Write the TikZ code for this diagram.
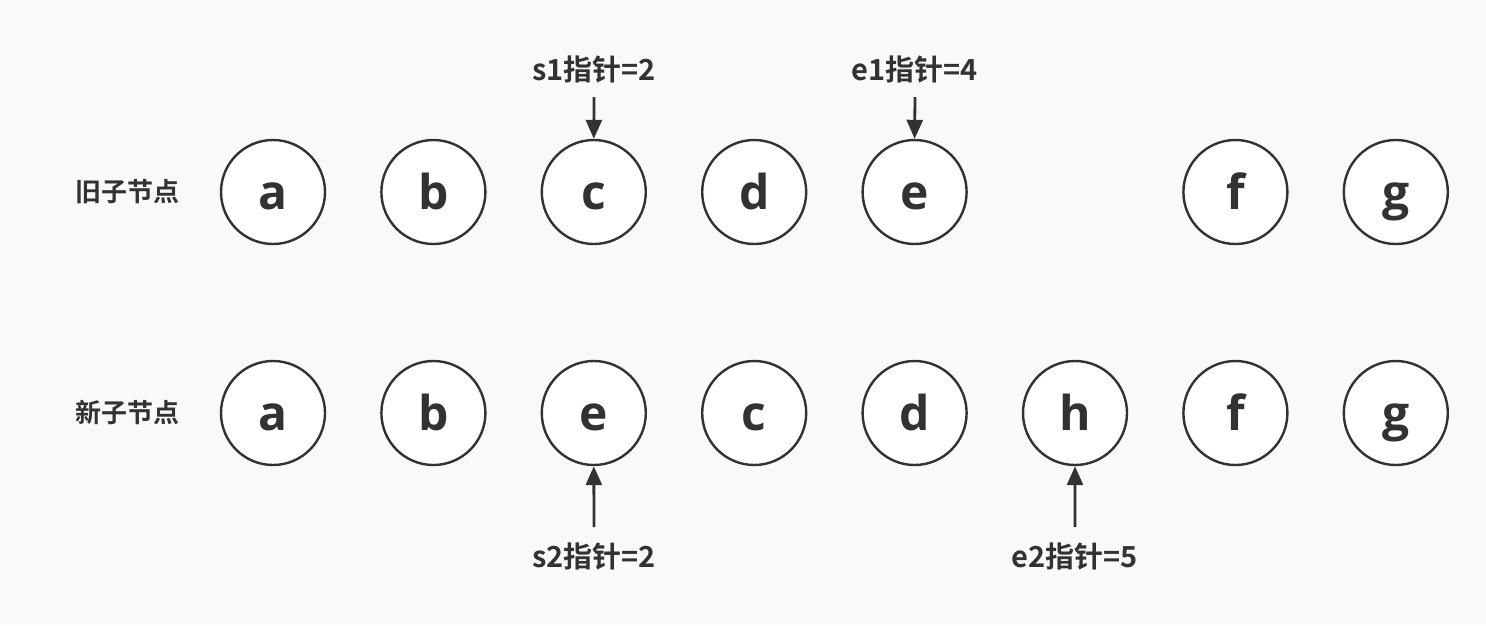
\documentclass[tikz,border=0pt]{standalone}
\usepackage{fontspec}
\setmainfont{Open Sans}
\newfontfamily\cjk{Noto Sans CJK SC}[BoldFont=* Bold]
\usetikzlibrary{arrows.meta}

\definecolor{ink}{HTML}{323232}
\definecolor{paper}{HTML}{F9F9F9}

\tikzset{
    item/.style={circle, draw=ink, fill=white, line width=2.4pt, minimum size=104pt, inner sep=0pt,
        text height=34pt, text depth=0pt,
        text=ink, font=\fontsize{48}{52}\selectfont\bfseries},
    rowname/.style={text=ink, font=\cjk\bfseries\fontsize{26}{30}\selectfont},
    ptrname/.style={text=ink, font=\cjk\bfseries\fontsize{29}{33}\selectfont},
    ptr/.style={-{Triangle[length=19pt,width=16pt]}, line width=2.8pt, ink},
}

\begin{document}
\begin{tikzpicture}[x=1pt, y=-1pt]

    \fill[paper] (0,0) rectangle (1486,625);
    \useasboundingbox (0,0) rectangle (1486,625);

    % row labels
    \node[rowname] (oldrow) at (127,192) {旧子节点};
    \node[rowname] (newrow) at (127,413) {新子节点};

    % old children
    \foreach \name/\i in {a/1, b/2, c/3, d/4, e/5, f/7, g/8}
        \node[item] (o\i) at ({273+160.4*(\i-1)},192) {\name};

    % new children
    \foreach \name/\i in {a/1, b/2, e/3, c/4, d/5, h/6, f/7, g/8}
        \node[item] (n\i) at ({273+160.4*(\i-1)},413) {\name};

    % pointers
    \node[ptrname] (s1) at (594,70) {s1指针=2};
    \node[ptrname] (e1) at (915,70) {e1指针=4};
    \node[ptrname] (s2) at (594,557) {s2指针=2};
    \node[ptrname] (e2) at (1075,557) {e2指针=5};

    \coordinate (s1top) at (594,97);
    \coordinate (e1top) at (915,97);
    \coordinate (s2bot) at (594,527);
    \coordinate (e2bot) at (1075,527);

    \draw[ptr] (s1top) -- (o3.north);
    \draw[ptr] (e1top) -- (o5.north);
    \draw[ptr] (s2bot) -- (n3.south);
    \draw[ptr] (e2bot) -- (n6.south);

\end{tikzpicture}
\end{document}
